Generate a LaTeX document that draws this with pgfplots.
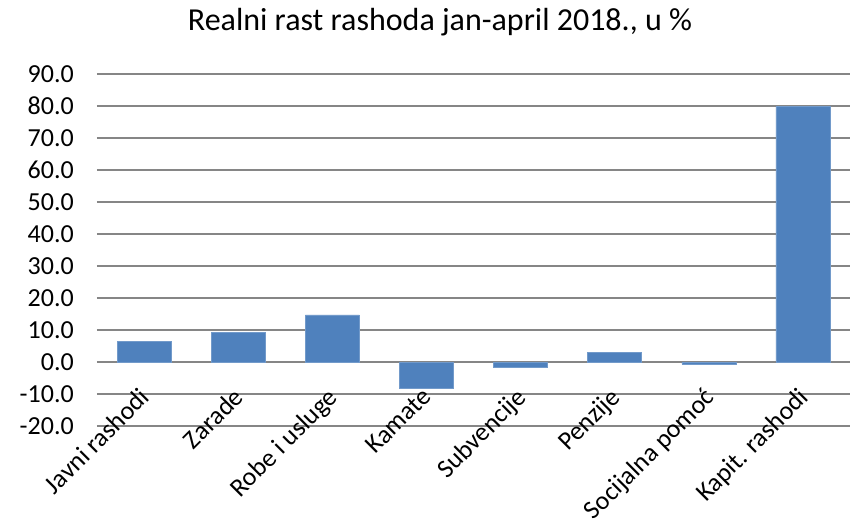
\documentclass[border=0pt]{standalone}
\usepackage{pgfplots}
\pgfplotsset{compat=1.18}
\usepackage{fontspec}
\setmainfont{Carlito}
\definecolor{barblue}{HTML}{4F81BD}
\definecolor{gridgray}{HTML}{868686}
\begin{document}
\begin{tikzpicture}
\path[use as bounding box] (-97pt,-96pt) rectangle (753pt,426pt);
\begin{axis}[
  at={(0pt,0pt)}, anchor=south west,
  scale only axis,
  width=753pt, height=352pt,
  xmin=-0.5, xmax=7.5,
  ymin=-20, ymax=90,
  axis line style={draw=none},
  major tick length=0pt,
  ymajorgrids,
  grid style={gridgray, line width=1.5pt},
  ytick={-20,-10,0,10,20,30,40,50,60,70,80,90},
  yticklabels={-20.0,-10.0,0.0,10.0,20.0,30.0,40.0,50.0,60.0,70.0,80.0,90.0},
  yticklabel style={font=\fontsize{26}{30}\selectfont, anchor=east, inner sep=0pt, xshift=-23pt},
  xtick={0,1,2,3,4,5,6,7},
  xticklabels={Javni rashodi,Zarade,Robe i usluge,Kamate,Subvencije,Penzije,Socijalna pomoć,Kapit. rashodi},
  xticklabel style={font=\fontsize{26}{30}\selectfont, xshift=-6pt, yshift=-3pt, rotate=45, anchor=north east, inner sep=0pt},
  xticklabel shift=-43pt,
  clip=false,
]
\addplot[ybar, bar width=54pt, fill=barblue, draw=barblue!80!white, line width=0.5pt]
  coordinates {(0,6.5) (1,9.3) (2,14.7) (3,-8.3) (4,-1.5) (5,3.1) (6,-0.7) (7,79.8)};
\end{axis}
\node[font=\fontsize{32}{38}\selectfont] at (343pt,404pt) {Realni rast rashoda jan-april 2018., u \%};
\end{tikzpicture}
\end{document}
